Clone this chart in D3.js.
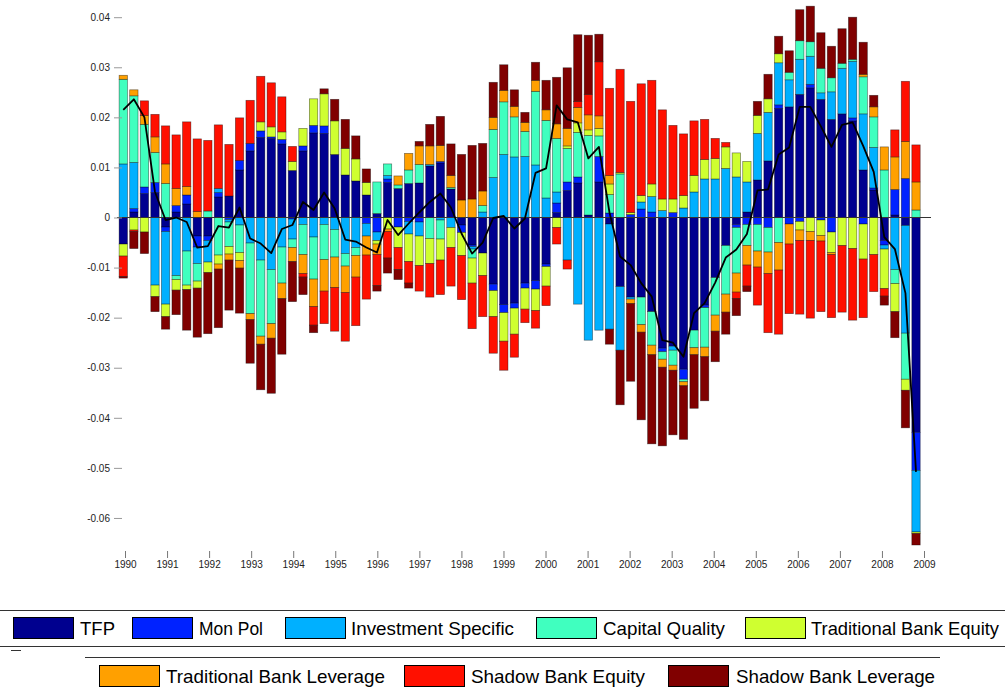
<!DOCTYPE html>
<html>
<head>
<meta charset="utf-8">
<script src="https://cdn.jsdelivr.net/npm/d3@7/dist/d3.min.js"></script>
<style>
  html, body { margin: 0; padding: 0; background: #fff; }
  svg { display: block; }
  text { font-family: "Liberation Sans", Arial, sans-serif; }
</style>
</head>
<body>
<svg id="chart" width="1005" height="690"></svg>
<script>
// ---------------- DATA ----------------
const years = [1990,1991,1992,1993,1994,1995,1996,1997,1998,1999,2000,2001,2002,2003,2004,2005,2006,2007,2008];
const quarters = [];
years.forEach(y => [1,2,3,4].forEach(q => quarters.push(y + "Q" + q)));

const seriesNames = ["TFP","Mon Pol","Investment Specific","Capital Quality","Traditional Bank Equity","Traditional Bank Leverage","Shadow Bank Equity","Shadow Bank Leverage"];
const seriesColors = ["#00008f","#0022ff","#00b0ff","#40ffbf","#cfff30","#ffa000","#ff1000","#800000"];

const TFP = [
-0.0053, 0.0011, 0.0048, 0.0050,
-0.0019, 0.0011, 0.0027,-0.0037,
-0.0037, 0.0041, 0.0043, 0.0095,
 0.0133, 0.0160, 0.0158, 0.0147,
 0.0094, 0.0133, 0.0169, 0.0168,
 0.0126, 0.0085, 0.0073, 0.0045,
 0.0008, 0.0070, 0.0058, 0.0068,
 0.0069, 0.0103, 0.0109, 0.0057,
-0.0015,-0.0055,-0.0071,-0.0133,
-0.0174,-0.0171,-0.0131,-0.0126,
-0.0093, 0.0010, 0.0054, 0.0069,
 0.0005, 0.0071,-0.0013,-0.0138,
-0.0159,-0.0159,-0.0188,-0.0261,
-0.0257,-0.0303,-0.0225,-0.0175,
-0.0120,-0.0056,-0.0014, 0.0011,
 0.0075, 0.0113, 0.0218, 0.0221,
 0.0246, 0.0259, 0.0236, 0.0196,
 0.0207, 0.0193, 0.0095, 0.0055,
-0.0046, 0.0005,-0.0016,-0.0429];

const MonPol = [
 0.0000, 0.0007, 0.0013, 0.0020,
-0.0009, 0.0013, 0.0018,-0.0022,
-0.0009, 0.0009,-0.0004, 0.0019,
 0.0015, 0.0013, 0.0003, 0.0009,
-0.0003, 0.0010, 0.0015, 0.0015,
 0.0000, 0.0000, 0.0000,-0.0012,
-0.0029, 0.0007,-0.0019,-0.0008,
-0.0009, 0.0000, 0.0003, 0.0000,
-0.0015,-0.0003, 0.0000,-0.0013,
-0.0016,-0.0010,-0.0010,-0.0017,
-0.0005, 0.0019, 0.0017, 0.0012,
 0.0000, 0.0051, 0.0009, 0.0000,
 0.0006, 0.0017, 0.0011,-0.0007,
 0.0010,-0.0020, 0.0000,-0.0005,
 0.0000, 0.0000,-0.0006,-0.0014,
-0.0014,-0.0020, 0.0007,-0.0013,
-0.0008, 0.0007,-0.0005,-0.0029,
 0.0000, 0.0006,-0.0013, 0.0004,
-0.0009, 0.0051, 0.0078,-0.0076];

const InvSpec = [
 0.0107, 0.0092, 0.0000,-0.0135,
-0.0145,-0.0116,-0.0067,-0.0033,
-0.0043, 0.0008,-0.0005,-0.0015,
-0.0051,-0.0085,-0.0104,-0.0059,
-0.0040,-0.0014,-0.0039,-0.0014,
-0.0024,-0.0072,-0.0060,-0.0025,
-0.0017, 0.0007, 0.0000,-0.0025,
-0.0028, 0.0003,-0.0005,-0.0020,
 0.0000,-0.0005, 0.0011, 0.0080,
 0.0126, 0.0121, 0.0122, 0.0105,
 0.0039, 0.0022,-0.0085,-0.0173,
-0.0245,-0.0225,-0.0210,-0.0127,
-0.0004, 0.0014, 0.0031, 0.0014,
-0.0008, 0.0019, 0.0051, 0.0077,
 0.0077, 0.0098, 0.0081, 0.0060,
 0.0093, 0.0097, 0.0084, 0.0054,
 0.0070, 0.0056, 0.0013, 0.0055,
 0.0091, 0.0113, 0.0112, 0.0081,
-0.0008,-0.0104,-0.0215,-0.0123];

const CapQual = [
 0.0169, 0.0133, 0.0125, 0.0060,
 0.0068,-0.0008,-0.0068,-0.0035,
 0.0013,-0.0075,-0.0049,-0.0055,
-0.0141,-0.0152,-0.0108,-0.0072,
-0.0017,-0.0060,-0.0084,-0.0070,
-0.0055,-0.0025,-0.0016, 0.0000,
 0.0063, 0.0023, 0.0007, 0.0027,
 0.0037,-0.0042,-0.0038, 0.0003,
 0.0000,-0.0018, 0.0013, 0.0096,
 0.0105, 0.0080, 0.0050, 0.0147,
 0.0155, 0.0107, 0.0067, 0.0089,
 0.0159, 0.0041, 0.0037, 0.0087,
 0.0000,-0.0055,-0.0067,-0.0015,
-0.0030,-0.0005,-0.0035,-0.0079,
-0.0075,-0.0097,-0.0091,-0.0042,
-0.0053,-0.0049,-0.0050, 0.0015,
 0.0037, 0.0029, 0.0049, 0.0028,
 0.0010, 0.0004, 0.0074, 0.0061,
 0.0095,-0.0028,-0.0092, 0.0015];

const TradEquity = [
-0.0024,-0.0025,-0.0029,-0.0023,
-0.0025,-0.0021,-0.0009,-0.0014,
-0.0021,-0.0018,-0.0015,-0.0016,
 0.0000, 0.0018, 0.0020, 0.0015,
 0.0018, 0.0035, 0.0053, 0.0064,
 0.0067, 0.0053, 0.0044, 0.0025,
-0.0007,-0.0023,-0.0041,-0.0055,
-0.0059,-0.0050,-0.0042,-0.0040,
-0.0046,-0.0050,-0.0045,-0.0052,
-0.0057,-0.0052,-0.0042,-0.0043,
-0.0039,-0.0020, 0.0005, 0.0019,
 0.0011, 0.0015, 0.0021, 0.0003,
 0.0004, 0.0013, 0.0025, 0.0023,
 0.0027, 0.0025, 0.0033, 0.0039,
 0.0041, 0.0043, 0.0048, 0.0041,
 0.0036, 0.0027, 0.0018, 0.0000,
-0.0017,-0.0028,-0.0031,-0.0041,
-0.0056,-0.0062,-0.0070,-0.0074,
-0.0079,-0.0056,-0.0022,-0.0003];

const TradLeverage = [
 0.0008, 0.0012, 0.0018, 0.0031,
 0.0039, 0.0034, 0.0017, 0.0012,
 0.0000,-0.0010,-0.0012,-0.0015,
-0.0012,-0.0016,-0.0029,-0.0031,
-0.0028,-0.0038,-0.0055,-0.0063,
-0.0061,-0.0053,-0.0043,-0.0038,
-0.0021,-0.0005, 0.0018, 0.0033,
 0.0037, 0.0037, 0.0032, 0.0024,
 0.0035, 0.0037, 0.0029, 0.0024,
 0.0023, 0.0021, 0.0018, 0.0022,
 0.0021, 0.0029, 0.0035, 0.0031,
 0.0030, 0.0025, 0.0017, 0.0000,
-0.0009,-0.0015,-0.0019,-0.0016,
-0.0010,-0.0008,-0.0014,-0.0019,
-0.0032,-0.0036,-0.0038,-0.0039,
-0.0032,-0.0043,-0.0055,-0.0040,
-0.0021,-0.0018,-0.0011,-0.0004,
 0.0000, 0.0000, 0.0005, 0.0020,
 0.0046, 0.0065, 0.0074, 0.0056];

const ShadowEquity = [
-0.0041,-0.0003, 0.0029, 0.0045,
 0.0076, 0.0107, 0.0129, 0.0145,
 0.0141, 0.0127, 0.0103, 0.0085,
 0.0086, 0.0091, 0.0088, 0.0070,
 0.0030,-0.0007,-0.0037,-0.0065,
-0.0087,-0.0097,-0.0097,-0.0088,
-0.0062,-0.0053,-0.0044,-0.0043,
-0.0051,-0.0067,-0.0069,-0.0077,
-0.0088,-0.0091,-0.0082,-0.0073,
-0.0058,-0.0046,-0.0027,-0.0035,
-0.0039,-0.0033,-0.0018, 0.0012,
 0.0041, 0.0108, 0.0174, 0.0206,
 0.0222, 0.0223, 0.0207, 0.0178,
 0.0147, 0.0123, 0.0109, 0.0080,
 0.0040, 0.0009,-0.0013,-0.0042,
-0.0076,-0.0118,-0.0128,-0.0139,
-0.0147,-0.0155,-0.0141,-0.0126,
-0.0133,-0.0143,-0.0117,-0.0074,
-0.0015, 0.0054, 0.0120, 0.0074];

const ShadowLeverage = [
-0.0003,-0.0034,-0.0043,-0.0030,
-0.0025,-0.0049,-0.0081,-0.0098,
-0.0122,-0.0117,-0.0100,-0.0090,
-0.0087,-0.0091,-0.0110,-0.0111,
-0.0080,-0.0035,-0.0015, 0.0010,
 0.0043, 0.0058, 0.0046, 0.0027,
-0.0011,-0.0030,-0.0020,-0.0010,
 0.0009, 0.0043, 0.0058, 0.0063,
 0.0091, 0.0107, 0.0095, 0.0070,
 0.0051, 0.0033, 0.0020, 0.0036,
 0.0059, 0.0093, 0.0121, 0.0133,
 0.0118, 0.0055,-0.0030,-0.0109,
-0.0155,-0.0175,-0.0178,-0.0157,
-0.0129,-0.0107,-0.0107,-0.0088,
-0.0061,-0.0044,-0.0034,-0.0011,
 0.0028, 0.0049, 0.0035, 0.0043,
 0.0062, 0.0071, 0.0071, 0.0063,
 0.0069, 0.0084, 0.0064, 0.0023,
-0.0018,-0.0052,-0.0075,-0.0023];

const dataLine = [
 0.0215, 0.0236, 0.0200, 0.0051,
-0.0005, 0.0000,-0.0009,-0.0060,
-0.0057,-0.0017,-0.0020, 0.0020,
-0.0042,-0.0052,-0.0071,-0.0023,
-0.0015, 0.0031, 0.0015, 0.0050,
 0.0018,-0.0044,-0.0048,-0.0060,
-0.0070,-0.0005,-0.0035,-0.0012,
 0.0010, 0.0031, 0.0048, 0.0020,
-0.0032,-0.0072,-0.0050,-0.0001,
 0.0003,-0.0022,-0.0002, 0.0089,
 0.0098, 0.0224, 0.0196, 0.0190,
 0.0118, 0.0141, 0.0010,-0.0078,
-0.0095,-0.0131,-0.0158,-0.0245,
-0.0250,-0.0278,-0.0191,-0.0171,
-0.0130,-0.0080,-0.0064,-0.0033,
 0.0054, 0.0056, 0.0126, 0.0140,
 0.0221, 0.0221, 0.0182, 0.0141,
 0.0185, 0.0190, 0.0143, 0.0091,
-0.0039,-0.0063,-0.0151,-0.0508];

const yTicks = [0.04, 0.03, 0.02, 0.01, 0, -0.01, -0.02, -0.03, -0.04, -0.05, -0.06];
const yTickLabels = ["0.04","0.03","0.02","0.01","0","-0.01","-0.02","-0.03","-0.04","-0.05","-0.06"];
const xTicks = [1990,1991,1992,1993,1994,1995,1996,1997,1998,1999,2000,2001,2002,2003,2004,2005,2006,2007,2008,2009];

// ---------------- BUILD ----------------
const seriesArrays = [TFP, MonPol, InvSpec, CapQual, TradEquity, TradLeverage, ShadowEquity, ShadowLeverage];
const table = quarters.map((q, i) => {
  const row = { period: q, idx: i };
  seriesNames.forEach((s, k) => row[s] = seriesArrays[k][i]);
  return row;
});

const svg = d3.select("#chart");

const x = d3.scaleBand().domain(d3.range(quarters.length))
  .range([118, 921.3]).paddingInner(0.21).paddingOuter(0.105);
const xYear = d3.scaleLinear().domain([1990, 2009]).range([125, 924]);
const y = d3.scaleLinear().domain([-0.065, 0.04]).range([543.0, 17.2]);

const stack = d3.stack().keys(seriesNames).offset(d3.stackOffsetDiverging);
const stacked = stack(table);

const color = d3.scaleOrdinal().domain(seriesNames).range(seriesColors);

// bars
const gBars = svg.append("g");
stacked.forEach(layer => {
  gBars.append("g")
    .attr("fill", color(layer.key))
    .selectAll("rect")
    .data(layer)
    .join("rect")
    .attr("x", (d, i) => x(i))
    .attr("width", x.bandwidth())
    .attr("y", d => y(Math.max(d[0], d[1])))
    .attr("height", d => Math.abs(y(d[0]) - y(d[1])))
    .attr("stroke", "#000")
    .attr("stroke-opacity", 0.5)
    .attr("stroke-width", 0.7);
});

// zero line
svg.append("line")
  .attr("x1", 117).attr("x2", 931)
  .attr("y1", y(0)).attr("y2", y(0))
  .attr("stroke", "#333").attr("stroke-width", 1);

// data line
const line = d3.line()
  .x((d, i) => x(i) + x.bandwidth() / 2)
  .y(d => y(d));
svg.append("path")
  .datum(dataLine)
  .attr("d", line)
  .attr("fill", "none")
  .attr("stroke", "#000")
  .attr("stroke-width", 1.8)
  .attr("stroke-linejoin", "round");

// y axis
const gy = svg.append("g").attr("transform", "translate(122,0)");
gy.call(d3.axisLeft(y).tickValues(yTicks).tickSize(8).tickPadding(4)
  .tickFormat((d, i) => yTickLabels[i]));
gy.select(".domain").remove();
gy.selectAll(".tick line").attr("stroke", "#999");
gy.selectAll(".tick text").attr("font-size", 10).attr("fill", "#222")
  .attr("font-family", "Liberation Sans, Arial, sans-serif");

// x axis
const gx = svg.append("g").attr("transform", "translate(0,551)");
gx.call(d3.axisBottom(xYear).tickValues(xTicks).tickSize(7).tickPadding(3)
  .tickFormat(d3.format("d")));
gx.select(".domain").remove();
gx.selectAll(".tick line").attr("stroke", "#777");
gx.selectAll(".tick text").attr("font-size", 10).attr("fill", "#222")
  .attr("font-family", "Liberation Sans, Arial, sans-serif");

// legend
const legendRow1 = [
  { name: "TFP", sx: 13, tx: 80, tw: 35 },
  { name: "Mon Pol", sx: 132, tx: 199, tw: 64 },
  { name: "Investment Specific", sx: 285, tx: 351, tw: 163 },
  { name: "Capital Quality", sx: 536, tx: 603, tw: 122 },
  { name: "Traditional Bank Equity", sx: 745, tx: 811, tw: 188 }
];
const legendRow2 = [
  { name: "Traditional Bank Leverage", sx: 99, tx: 166, tw: 219 },
  { name: "Shadow Bank Equity", sx: 404, tx: 471, tw: 174 },
  { name: "Shadow Bank Leverage", sx: 668, tx: 736, tw: 199 }
];
const gL = svg.append("g");
gL.append("line").attr("x1", 0).attr("x2", 1005).attr("y1", 610.5).attr("y2", 610.5).attr("stroke", "#333");
gL.append("line").attr("x1", 0).attr("x2", 1005).attr("y1", 646.5).attr("y2", 646.5).attr("stroke", "#333");
gL.append("line").attr("x1", 11).attr("x2", 21).attr("y1", 650.5).attr("y2", 650.5).attr("stroke", "#333");
gL.append("line").attr("x1", 85).attr("x2", 940).attr("y1", 657.5).attr("y2", 657.5).attr("stroke", "#333");

function drawRow(items, sy, ty) {
  items.forEach(it => {
    gL.append("rect").attr("x", it.sx + 0.5).attr("y", sy + 0.5)
      .attr("width", 60).attr("height", 21)
      .attr("fill", color(it.name)).attr("stroke", "#000").attr("stroke-width", 1);
    gL.append("text").attr("x", it.tx).attr("y", ty)
      .attr("font-size", 18.5).attr("fill", "#000")
      .attr("textLength", it.tw).attr("lengthAdjust", "spacingAndGlyphs")
      .text(it.name);
  });
}
drawRow(legendRow1, 617, 634.5);
drawRow(legendRow2, 665, 682.5);
</script>
</body>
</html>
